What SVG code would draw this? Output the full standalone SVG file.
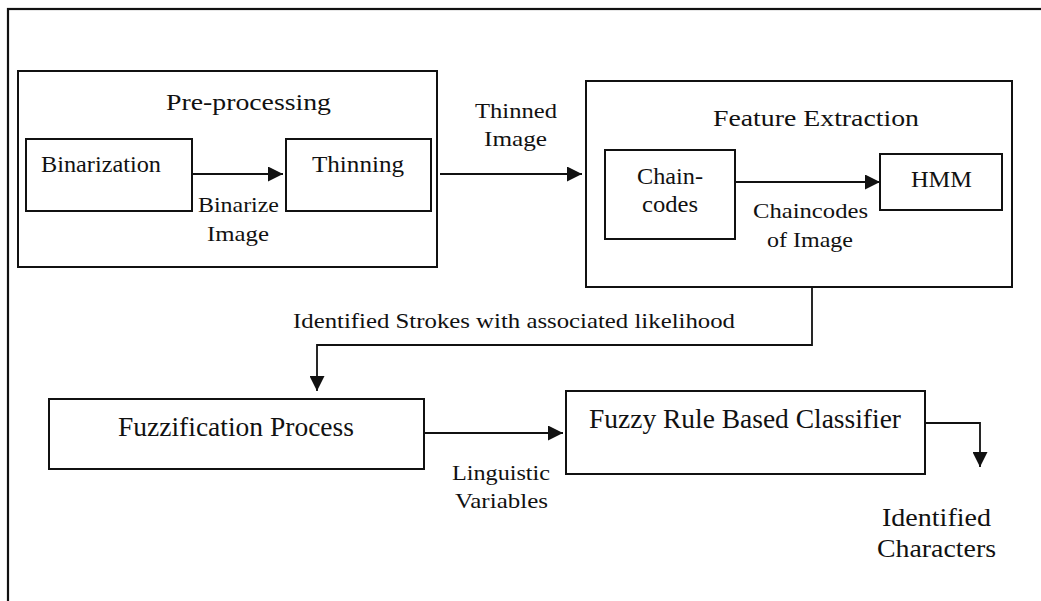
<svg xmlns="http://www.w3.org/2000/svg" width="1041" height="601" viewBox="0 0 1041 601">
  <style>
    .box { fill: #fff; stroke: #111; stroke-width: 2; }
    .frame { fill: none; stroke: #111; stroke-width: 2.2; }
    .wire { fill: none; stroke: #111; stroke-width: 1.8; }
    .t24 { font-size: 24px; }
    .t27 { font-size: 27px; }
    .t22 { font-size: 22px; }
    .t26 { font-size: 25px; }
  </style>
  <defs>
    <marker id="head" viewBox="0 0 10 10" refX="10" refY="5" markerUnits="userSpaceOnUse" markerWidth="17" markerHeight="15" orient="auto">
      <path d="M0,0 L10,5 L0,10 z" fill="#111"/>
    </marker>
  </defs>

  <g font-family="Liberation Serif, serif" fill="#111">
  <!-- outer frame (runs off the right and bottom edges) -->
  <rect class="frame" x="8" y="9" width="1100" height="660"/>

  <g id="preprocessing">
    <rect class="box" x="18" y="71" width="419" height="196"/>
    <text class="t24" x="166" y="110" textLength="165" lengthAdjust="spacingAndGlyphs">Pre-processing</text>
  </g>
  <g id="binarization">
    <rect class="box" x="26" y="139" width="166" height="72"/>
    <text class="t24" x="41" y="172" textLength="120" lengthAdjust="spacingAndGlyphs">Binarization</text>
  </g>
  <g id="thinning">
    <rect class="box" x="286" y="139" width="145" height="72"/>
    <text class="t24" x="312" y="172" textLength="92" lengthAdjust="spacingAndGlyphs">Thinning</text>
  </g>

  <g id="feature-extraction">
    <rect class="box" x="586" y="81" width="426" height="206"/>
    <text class="t24" x="713" y="126" textLength="206" lengthAdjust="spacingAndGlyphs">Feature Extraction</text>
  </g>
  <g id="chaincodes">
    <rect class="box" x="605" y="150" width="130" height="89"/>
    <text class="t24" x="637" y="184" textLength="66" lengthAdjust="spacingAndGlyphs">Chain-</text>
    <text class="t24" x="642" y="212" textLength="56" lengthAdjust="spacingAndGlyphs">codes</text>
  </g>
  <g id="hmm">
    <rect class="box" x="880" y="154" width="122" height="56"/>
    <text class="t24" x="911" y="187" textLength="61" lengthAdjust="spacingAndGlyphs">HMM</text>
  </g>

  <g id="fuzzification">
    <rect class="box" x="49" y="399" width="375" height="70"/>
    <text class="t27" x="118" y="436" textLength="236" lengthAdjust="spacingAndGlyphs">Fuzzification Process</text>
  </g>
  <g id="classifier">
    <rect class="box" x="566" y="391" width="359" height="83"/>
    <text class="t27" x="589" y="428" textLength="312" lengthAdjust="spacingAndGlyphs">Fuzzy Rule Based Classifier</text>
  </g>

  <g id="connectors">
    <line class="wire" x1="192" y1="174" x2="283" y2="174" marker-end="url(#head)"/>
    <line class="wire" x1="440" y1="174" x2="582" y2="174" marker-end="url(#head)"/>
    <line class="wire" x1="735" y1="182" x2="880" y2="182" marker-end="url(#head)"/>
    <polyline class="wire" points="812,287 812,345 317,345 317,391" marker-end="url(#head)"/>
    <line class="wire" x1="424" y1="433" x2="563" y2="433" marker-end="url(#head)"/>
    <polyline class="wire" points="925,423 980,423 980,467" marker-end="url(#head)"/>
  </g>

  <g id="labels">
    <text class="t22" x="198" y="212" textLength="81" lengthAdjust="spacingAndGlyphs">Binarize</text>
    <text class="t22" x="207" y="241" textLength="62" lengthAdjust="spacingAndGlyphs">Image</text>
    <text class="t22" x="475" y="118" textLength="82" lengthAdjust="spacingAndGlyphs">Thinned</text>
    <text class="t22" x="484" y="146" textLength="63" lengthAdjust="spacingAndGlyphs">Image</text>
    <text class="t22" x="753" y="218" textLength="115" lengthAdjust="spacingAndGlyphs">Chaincodes</text>
    <text class="t22" x="767" y="247" textLength="86" lengthAdjust="spacingAndGlyphs">of Image</text>
    <text class="t22" x="293" y="328" textLength="442" lengthAdjust="spacingAndGlyphs">Identified Strokes with associated likelihood</text>
    <text class="t22" x="452" y="480" textLength="98" lengthAdjust="spacingAndGlyphs">Linguistic</text>
    <text class="t22" x="455" y="508" textLength="93" lengthAdjust="spacingAndGlyphs">Variables</text>
    <text class="t26" x="882" y="526" textLength="109" lengthAdjust="spacingAndGlyphs">Identified</text>
    <text class="t26" x="877" y="557" textLength="119" lengthAdjust="spacingAndGlyphs">Characters</text>
  </g>
  </g>
</svg>
